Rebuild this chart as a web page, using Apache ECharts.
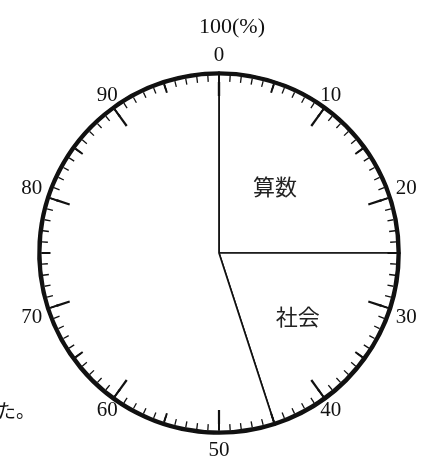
<!DOCTYPE html>
<html><head><meta charset="utf-8">
<script src="https://cdn.jsdelivr.net/npm/echarts@6/dist/echarts.min.js"></script>
<style>html,body{margin:0;padding:0;background:#fff}#c{width:437px;height:464px}</style>
</head><body><div id="c"></div>
<script>
const categories = ['算数', '社会', 'その他'];
const percentValues = [25, 20, 55];
const tickLabels = ['0','10','20','30','40','50','60','70','80','90'];
const scaleTitle = '100(%)';
const sideText = 'た。';

const chart = echarts.init(document.getElementById('c'));
const CX = 219, CY = 253, R = 181;
const numFont = '"Liberation Serif", "DejaVu Serif", serif';
const jpFont = '"Noto Sans CJK JP", sans-serif';

const pieData = categories.map((n, i) => {
  const item = { name: n, value: percentValues[i] };
  if (i === 0) item.label = { padding: [0, 20, 0, 0] };
  if (i === 1) item.label = { padding: [0, 0, 0, 6], formatter: '\n{b}', lineHeight: 18 };
  if (i === 2) item.label = { show: false };
  return item;
});

const gaugeCommon = {
  type: 'gauge', silent: true, center: [CX, CY], radius: R, z: 10,
  startAngle: 90, endAngle: -270, min: 0, max: 100,
  pointer: { show: false }, anchor: { show: false }, title: { show: false }, detail: { show: false },
  data: [{ value: 0 }]
};

chart.setOption({
  animation: false,
  backgroundColor: '#fff',
  graphic: [
    { type: 'text', z: 20, style: { text: scaleTitle, x: 232, y: 27, align: 'center', verticalAlign: 'middle', font: '22px ' + numFont, fill: '#111' } },
    { type: 'text', z: 20, style: { text: sideText, x: -3, y: 411, align: 'left', verticalAlign: 'middle', font: '19px ' + jpFont, fill: '#111' } }
  ],
  series: [
    {
      type: 'pie', silent: true, center: [CX, CY], radius: [0, R], z: 1,
      startAngle: 90, clockwise: true,
      itemStyle: { color: '#fff', borderColor: '#111', borderWidth: 1.7 },
      label: { show: true, position: 'inside', color: '#222', fontSize: 22, fontFamily: jpFont },
      labelLine: { show: false },
      emphasis: { disabled: true },
      data: pieData
    },
    Object.assign({}, gaugeCommon, {
      splitNumber: 20,
      axisLine: { show: true, lineStyle: { width: 3.5, color: [[1, '#111']] } },
      splitLine: { show: true, distance: 0, length: 9, lineStyle: { color: '#111', width: 2 } },
      axisTick: { show: true, distance: 0, splitNumber: 5, length: 6, lineStyle: { color: '#111', width: 1.3 } },
      axisLabel: { show: false }
    }),
    Object.assign({}, gaugeCommon, {
      splitNumber: 10,
      axisLine: { show: false },
      splitLine: { show: true, distance: 0, length: 14, lineStyle: { color: '#111', width: 2.2 } },
      axisTick: { show: false },
      axisLabel: {
        distance: -41, color: '#111', fontSize: 21, fontFamily: numFont,
        formatter: v => { const i = Math.round(v / 10); return i < tickLabels.length ? tickLabels[i] : ''; }
      }
    })
  ]
});
</script></body></html>
